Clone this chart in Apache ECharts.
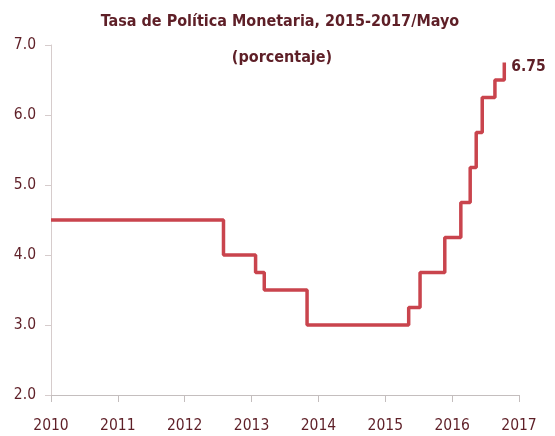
<!DOCTYPE html>
<html>
<head>
<meta charset="utf-8">
<script src="https://cdn.jsdelivr.net/npm/echarts@6/dist/echarts.min.js"></script>
<style>
  html, body { margin: 0; padding: 0; background: #fff; }
  #chart { width: 555px; height: 436px; }
</style>
</head>
<body>
<div id="chart"></div>
<script>
  // fechas de cambio de la tasa (año decimal) y nivel vigente desde esa fecha
  const changeDates = [2010.0, 2012.58, 2013.06, 2013.19, 2013.83, 2015.35, 2015.52,
    2015.89, 2016.13, 2016.27, 2016.36, 2016.45, 2016.64, 2016.78];
  const rates = [4.5, 4.0, 3.75, 3.5, 3.0, 3.25, 3.75, 4.25, 4.75, 5.25, 5.75, 6.25, 6.5, 6.75];
  const yearTicks = [2010, 2011, 2012, 2013, 2014, 2015, 2016, 2017];
  const titleLine1 = 'Tasa de Política Monetaria, 2015-2017/Mayo';
  const titleLine2 = '(porcentaje)';
  const lastLabel = '6.75';

  const FONT = '"Liberation Sans Narrow", "DejaVu Sans Condensed", sans-serif';
  const TEXT = '#5e1f27';
  const LINE = '#c9444d';

  const chart = echarts.init(document.getElementById('chart'));

  const seriesData = changeDates.map((d, i) => [d, rates[i]]);

  chart.setOption({
    animation: false,
    backgroundColor: '#fff',
    title: [
      {
        text: titleLine1,
        left: 280,
        top: 13,
        textAlign: 'center',
        padding: 0,
        textStyle: { fontFamily: FONT, fontSize: 16, fontWeight: 'bold', color: TEXT, lineHeight: 18 },
      },
      {
        text: titleLine2,
        left: 282,
        top: 49,
        textAlign: 'center',
        padding: 0,
        textStyle: { fontFamily: FONT, fontSize: 16, fontWeight: 'bold', color: TEXT, lineHeight: 18 },
      },
    ],
    grid: {
      left: 51,
      right: 36,
      top: 45,
      bottom: 41,
    },
    xAxis: {
      type: 'value',
      min: yearTicks[0],
      max: yearTicks[yearTicks.length - 1],
      interval: 1,
      axisLine: { lineStyle: { color: '#c4bebe', width: 1 } },
      axisTick: { show: true, length: 7, lineStyle: { color: '#c4bebe' } },
      axisLabel: {
        margin: 23,
        fontFamily: FONT,
        fontSize: 15.5,
        color: TEXT,
        formatter: (v) => String(v),
      },
      splitLine: { show: false },
    },
    yAxis: {
      type: 'value',
      min: 2,
      max: 7,
      interval: 1,
      axisLine: { show: true, lineStyle: { color: '#d6cccc', width: 1 } },
      axisTick: { show: true, length: 6, lineStyle: { color: '#d6cccc' } },
      axisLabel: {
        margin: 15,
        fontFamily: FONT,
        fontSize: 15.5,
        color: TEXT,
        formatter: (v) => v.toFixed(1),
      },
      splitLine: { show: false },
    },
    series: [
      {
        type: 'line',
        step: 'end',
        data: seriesData,
        showSymbol: false,
        lineStyle: { color: LINE, width: 3.5 },
        itemStyle: { color: LINE },
        endLabel: {
          show: true,
          formatter: () => lastLabel,
          distance: 7,
          offset: [0, 4],
          fontFamily: FONT,
          fontSize: 15.5,
          fontWeight: 'bold',
          color: TEXT,
        },
      },
    ],
  });
</script>
</body>
</html>
